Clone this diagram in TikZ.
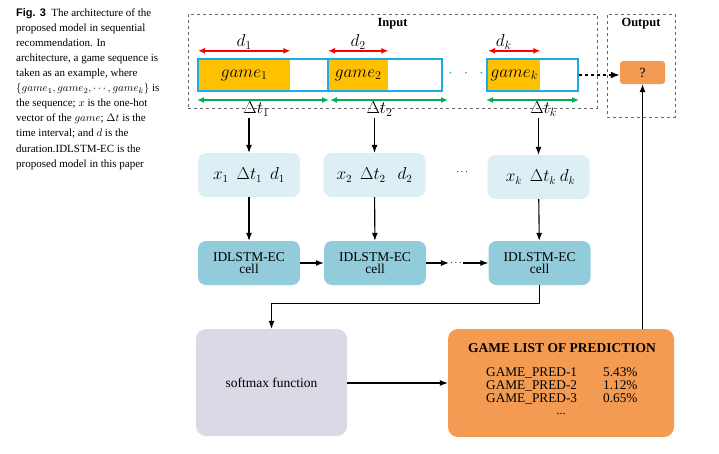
\documentclass[tikz,border=0pt]{standalone}
\usepackage{fontspec}
\setmainfont{Liberation Serif}
\newfontfamily\figsans{Liberation Sans}
\usetikzlibrary{positioning,arrows.meta}
\definecolor{seqblue}{HTML}{1AADE4}
\definecolor{gamegold}{HTML}{FFC000}
\definecolor{durred}{HTML}{FF0000}
\definecolor{gapgreen}{HTML}{00B050}
\definecolor{inblue}{HTML}{DDEEF4}
\definecolor{cellblue}{HTML}{92CCDB}
\definecolor{softlilac}{HTML}{DDD8E6}
\definecolor{predorange}{HTML}{F39B52}
\definecolor{groupgray}{HTML}{666666}
\tikzstyle{groupbox} = [draw=groupgray, dashed, line width=0.8pt, inner sep=0pt]
\tikzstyle{seqbox} = [draw=seqblue, line width=2pt, minimum height=32, inner sep=0pt]
\tikzstyle{gamefill} = [fill=gamegold, minimum height=30, inner sep=0pt, font=\fontsize{18}{20}\selectfont]
\tikzstyle{xbox} = [fill=inblue, rounded corners=8, minimum width=102, minimum height=44, font=\fontsize{16}{18}\selectfont]
\tikzstyle{cellbox} = [fill=cellblue, rounded corners=8, minimum width=102, minimum height=44, align=center, font=\fontsize{13.5}{12.5}\selectfont]
\tikzstyle{qbox} = [fill=predorange, rounded corners=3, minimum width=45, minimum height=23, font=\fontsize{14}{15}\selectfont]
\tikzstyle{mathlbl} = [inner sep=1pt, font=\fontsize{17}{18}\selectfont]
\tikzstyle{line} = [draw, line width=1.1pt, -{Latex[length=8pt,width=6pt]}]
\tikzstyle{duration} = [draw=durred, line width=1.4pt, {Latex[length=7pt,width=6pt]}-{Latex[length=7pt,width=6pt]}]
\tikzstyle{interval} = [draw=gapgreen, line width=1.4pt, {Latex[length=7pt,width=6pt]}-{Latex[length=7pt,width=6pt]}]

\begin{document}
\begin{tikzpicture}[x=1pt,y=-1pt]
        \useasboundingbox (0,0) rectangle (719,453);
        %Caption
        \node [anchor=north west, inner sep=0pt, align=left, font=\fontsize{11}{15.1}\selectfont] (caption) at (16,8)
            {{\figsans\bfseries Fig. 3}\ \ The architecture of the\\
             proposed model in sequential\\
             recommendation. In\\
             architecture, a game sequence is\\
             taken as an example, where\\
             $\{game_1, game_2, \cdots, game_k\}$ is\\
             the sequence; $x$ is the one-hot\\
             vector of the $game$; $\Delta t$ is the\\
             time interval; and $d$ is the\\
             duration.IDLSTM-EC is the\\
             proposed model in this paper};
        %Groups
        \node [groupbox, minimum width=409, minimum height=94] (inbox) at (392.5,61) {};
        \node [below = 1pt of inbox.north, font=\bfseries\fontsize{12.5}{14}\selectfont] (inlabel) {Input};
        \node [groupbox, minimum width=68, minimum height=103] (outbox) at (641,65.5) {};
        \node [below = 1pt of outbox.north, font=\bfseries\fontsize{12.5}{14}\selectfont] (outlabel) {Output};
        %Sequence
        \node [gamefill, minimum width=92, anchor=west] (game1) at (198,75) {$game_1$};
        \node [gamefill, minimum width=60, anchor=west] (game2) at (328,75) {$game_2$};
        \node [gamefill, minimum width=52, anchor=west] (gamek) at (488,75) {$game_k$};
        \node [seqbox, minimum width=130] (seq1) at (263,75) {};
        \node [seqbox, minimum width=114] (seq2) at (385,75) {};
        \node [seqbox, minimum width=91] (seqk) at (532.5,75) {};
        \node [text=seqblue, font=\fontsize{16}{16}\selectfont] (seqdots) at (466,74) {$\cdot\ \,\cdot\ \,\cdot$};
        \node [qbox] (qbox) at (642.5,72.5) {?};
        %Durations and intervals
        \draw [duration] ([yshift=9]game1.north west) -- ([yshift=9]game1.north east) node [midway, above, mathlbl] (d1) {$d_1$};
        \draw [duration] ([yshift=9]game2.north west) -- ([yshift=9]game2.north east) node [midway, above, mathlbl] (d2) {$d_2$};
        \draw [duration] ([yshift=9]gamek.north west) -- ([yshift=9]gamek.north east) node [pos=0.3, above, mathlbl] (dk) {$d_k$};
        \draw [interval] ([yshift=-8]seq1.south west) -- ([yshift=-8]seq1.south east) node [pos=0.45, below, mathlbl] (dt1) {$\Delta t_1$};
        \draw [interval] ([xshift=3,yshift=-8]seq2.south west) -- ([xshift=5,yshift=-8]seq2.south east) node [pos=0.42, below, mathlbl] (dt2) {$\Delta t_2$};
        \draw [interval] ([yshift=-8]seqk.south west) -- ([yshift=-8]seqk.south east) node [pos=0.62, below, mathlbl] (dtk) {$\Delta t_k$};
        %Inputs
        \node [xbox] (xin1) at (249,175) {$x_1\ \ \Delta t_1\ \ d_1$};
        \node [xbox] (xin2) at (374.5,175) {$x_2\ \ \Delta t_2\ \ \ d_2$};
        \node [xbox] (xink) at (538.5,177) {$\ x_k\ \ \Delta t_k\ d_k$};
        \node (xdots) at (462,172) {$\cdots$};
        %Cells
        \node [cellbox] (cell1) at (249,263) {IDLSTM-EC\\cell};
        \node [cellbox] (cell2) at (375,263) {IDLSTM-EC\\cell};
        \node [cellbox] (cellk) at (539.5,263) {IDLSTM-EC\\cell};
        \node [inner sep=1pt] (celldots) at (456,263) {$\cdots$};
        %Prediction
        \node [fill=softlilac, rounded corners=10, minimum width=151, minimum height=107, font=\fontsize{13.5}{14}\selectfont] (softmax) at (271.5,382.5) {softmax function};
        \node [fill=predorange, rounded corners=10, minimum width=226, minimum height=108] (predlist) at (561,383) {};
        \node [font=\bfseries\fontsize{13.5}{14}\selectfont] (listtitle) at (562,348) {GAME LIST OF PREDICTION};
        \node [anchor=north west, inner sep=0pt, align=left, font=\fontsize{13.3}{13.2}\selectfont] (listnames) at (486,367)
            {GAME\_PRED-1\\GAME\_PRED-2\\GAME\_PRED-3};
        \node [anchor=north west, inner sep=0pt, align=left, font=\fontsize{13.3}{13.2}\selectfont] (listprobs) at (603,367)
            {5.43\%\\1.12\%\\0.65\%};
        \node [inner sep=0pt, font=\fontsize{12}{12}\selectfont] (listdots) at (561,414) {...};
        %Arrows
        \draw [line] (xin1.north |- dt1.south) -- (xin1.north);
        \draw [line] (xin2.north |- dt2.south) -- (xin2.north);
        \draw [line] (xink.north |- dtk.south) -- (xink.north);
        \draw [line] (xin1) -- (cell1);
        \draw [line] (xin2) -- (cell2);
        \draw [line] (xink) -- (cellk);
        \draw [line] (cell1) -- (cell2);
        \draw [line] (cell2) -- (celldots);
        \draw [line] (celldots) -- (cellk);
        \draw [line] (cellk.south) -- ++(0,18) -| (softmax.north);
        \draw [line] (softmax.east |- predlist.west) -- (predlist.west);
        \draw [line] (predlist.north -| qbox.south) -- (qbox.south);
        \draw [line, dashed, line width=1.6pt, -{Latex[length=9pt,width=7pt]}] (seqk.east) -- (seqk.east -| qbox.west);
    \end{tikzpicture}
\end{document}
